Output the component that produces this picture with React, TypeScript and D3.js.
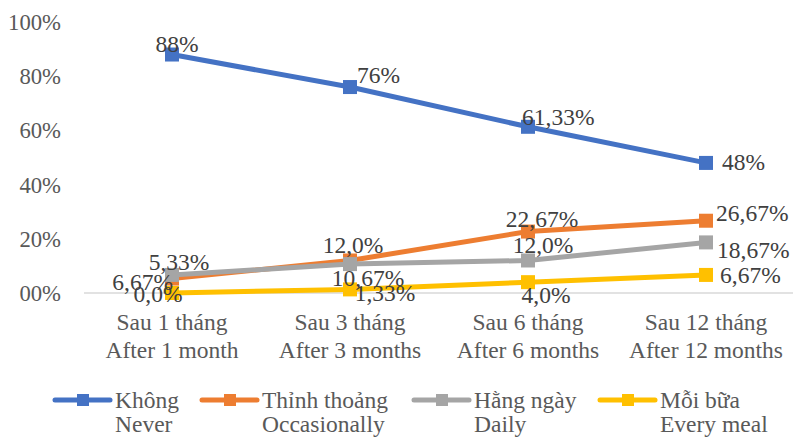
import React from "react";
import * as d3 from "d3";

const categories = [
  ["Sau 1 tháng", "After 1 month"],
  ["Sau 3 tháng", "After 3 months"],
  ["Sau 6 tháng", "After 6 months"],
  ["Sau 12 tháng", "After 12 months"],
];
const neverVals = [88, 76, 61.33, 48];
const occasionallyVals = [5.33, 12.0, 22.67, 26.67];
const dailyVals = [6.67, 10.67, 12.0, 18.67];
const everyMealVals = [0, 1.33, 4.0, 6.67];
const neverLabels = ["88%", "76%", "61,33%", "48%"];
const occasionallyLabels = ["5,33%", "12,0%", "22,67%", "26,67%"];
const dailyLabels = ["6,67%", "10,67%", "12,0%", "18,67%"];
const everyMealLabels = ["0,0%", "1,33%", "4,0%", "6,67%"];
const yTicks = [0, 20, 40, 60, 80, 100];
const yTickLabels = ["00%", "20%", "40%", "60%", "80%", "100%"];

// label placement: [dx, dy, anchor]
type Place = [number, number, "start" | "middle" | "end"];
const neverPlace: Place[] = [[5, -3, "middle"], [7, -4, "start"], [-6, -2, "start"], [16, 7, "start"]];
const occPlace: Place[] = [[7, -9, "middle"], [3, -7, "middle"], [14, -5, "middle"], [10, 0, "start"]];
const dailyPlace: Place[] = [[1, 15, "end"], [18, 22, "middle"], [15, -7, "middle"], [11, 16, "start"]];
const mealPlace: Place[] = [[-14, 9, "middle"], [35, 12, "middle"], [18, 21, "middle"], [14, 8, "start"]];

const series = [
  { name: ["Không", "Never"], color: "#4472C4", values: neverVals, labels: neverLabels, place: neverPlace },
  { name: ["Thỉnh thoảng", "Occasionally"], color: "#ED7D31", values: occasionallyVals, labels: occasionallyLabels, place: occPlace },
  { name: ["Hằng ngày", "Daily"], color: "#A5A5A5", values: dailyVals, labels: dailyLabels, place: dailyPlace },
  { name: ["Mỗi bữa", "Every meal"], color: "#FFC000", values: everyMealVals, labels: everyMealLabels, place: mealPlace },
];

const legendX = [55, 202, 414, 600];

export default function App() {
  const W = 793, H = 439;
  const x = d3.scaleBand<number>().domain([0, 1, 2, 3]).range([83, 795]);
  const y = d3.scaleLinear().domain([0, 100]).range([293, 22]);
  const cx = (i: number) => (x(i) as number) + x.bandwidth() / 2;
  const line = d3.line<number>().x((_, i) => cx(i)).y((v) => y(v));
  const font = "'Liberation Serif', 'Times New Roman', serif";
  const fs = 23.5;
  const textColor = "#404040";
  const axisColor = "#595959";

  return (
    <svg width={W} height={H} style={{ position: "absolute", left: 0, top: 0, fontFamily: font }}>
      <rect width={W} height={H} fill="#fff" />
      <line x1={84} x2={793} y1={y(0)} y2={y(0)} stroke="#D9D9D9" strokeWidth={1.5} />
      {yTicks.map((t, i) => (
        <text key={t} x={61} y={y(t) + 8} textAnchor="end" fontSize={22.7} fill={axisColor}>{yTickLabels[i]}</text>
      ))}
      {categories.map((c, i) => (
        <g key={i}>
          <text x={cx(i)} y={330} textAnchor="middle" fontSize={fs} fill={axisColor}>{c[0]}</text>
          <text x={cx(i)} y={358} textAnchor="middle" fontSize={fs} fill={axisColor}>{c[1]}</text>
        </g>
      ))}
      {series.map((s, si) => (
        <g key={si}>
          <path d={line(s.values) || ""} fill="none" stroke={s.color} strokeWidth={5} strokeLinejoin="round" />
          {s.values.map((v, i) => (
            <rect key={i} x={cx(i) - 7} y={y(v) - 7} width={14} height={14} fill={s.color} />
          ))}
        </g>
      ))}
      {series.map((s, si) => (
        <g key={"l" + si}>
          {s.values.map((v, i) => {
            const [dx, dy, anchor] = s.place[i];
            return (
              <text key={i} x={cx(i) + dx} y={y(v) + dy} textAnchor={anchor} fontSize={fs} fill={textColor}>{s.labels[i]}</text>
            );
          })}
        </g>
      ))}
      {series.map((s, si) => (
        <g key={"lg" + si}>
          <line x1={legendX[si]} x2={legendX[si] + 55} y1={400} y2={400} stroke={s.color} strokeWidth={5} strokeLinecap="round" />
          <rect x={legendX[si] + 22} y={394} width={12} height={12} fill={s.color} />
          <text x={legendX[si] + 60} y={408} fontSize={fs} fill={axisColor}>{s.name[0]}</text>
          <text x={legendX[si] + 60} y={432} fontSize={fs} fill={axisColor}>{s.name[1]}</text>
        </g>
      ))}
    </svg>
  );
}
